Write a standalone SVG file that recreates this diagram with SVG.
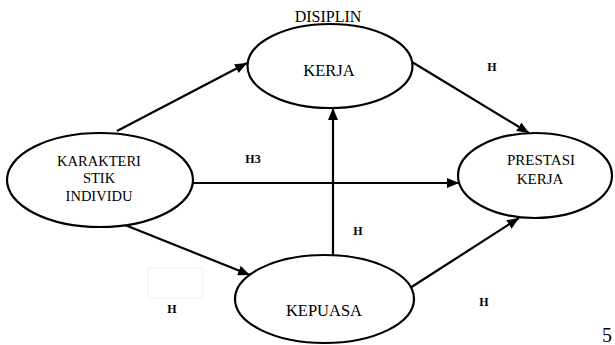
<svg xmlns="http://www.w3.org/2000/svg" width="615" height="345" viewBox="0 0 615 345">
<style>
.node ellipse{fill:#fff;stroke:#000;stroke-width:2.2}
.t{font-family:"Liberation Serif","Times New Roman",serif;fill:#000;text-anchor:middle}
.lbl{font-family:"Liberation Serif","Times New Roman",serif;font-weight:bold;font-size:12px;fill:#000;text-anchor:middle}
.c line{stroke:#000;stroke-width:2.2;marker-end:url(#ah)}
</style>
<defs>
<marker id="ah" viewBox="0 0 12 10" refX="12" refY="5" markerWidth="12" markerHeight="10" markerUnits="userSpaceOnUse" orient="auto">
<path d="M0,0 L12,5 L0,10 Z" fill="#000"/>
</marker>
</defs>
<rect x="148" y="268" width="55" height="30" fill="none" stroke="#f0f0f0" stroke-width="1"/>
<g class="c">
<line x1="117" y1="131" x2="247" y2="63"/>
<line x1="412" y1="62" x2="529" y2="133"/>
<line x1="193" y1="183" x2="459" y2="183"/>
<line x1="333" y1="255" x2="333" y2="108"/>
<line x1="125" y1="225" x2="250" y2="275"/>
<line x1="410" y1="288" x2="519" y2="218"/>
</g>
<g id="disiplin" class="node">
<ellipse cx="330" cy="66" rx="82.5" ry="42"/>
<text class="t" x="328" y="22" font-size="16">DISIPLIN</text>
<text class="t" x="329" y="76" font-size="16.5">KERJA</text>
</g>
<g id="karakteristik" class="node">
<ellipse cx="100" cy="180" rx="93" ry="47"/>
<text class="t" x="99" y="166" font-size="14.5">KARAKTERI</text>
<text class="t" x="99" y="183" font-size="14.5">STIK</text>
<text class="t" x="99" y="200.5" font-size="14.5">INDIVIDU</text>
</g>
<g id="prestasi" class="node">
<ellipse cx="535" cy="175.5" rx="77" ry="42.5"/>
<text class="t" x="541" y="165" font-size="15">PRESTASI</text>
<text class="t" x="540" y="183.5" font-size="15">KERJA</text>
</g>
<g id="kepuasa" class="node">
<ellipse cx="324.5" cy="299" rx="89.5" ry="44"/>
<text class="t" x="324" y="316" font-size="16.5">KEPUASA</text>
</g>
<g id="labels">
<text class="lbl" x="492" y="71">H</text>
<text class="lbl" x="253" y="163">H3</text>
<text class="lbl" x="358" y="235">H</text>
<text class="lbl" x="172" y="313">H</text>
<text class="lbl" x="484" y="306">H</text>
<text class="t" x="602" y="342" font-size="20" style="text-anchor:start">5</text>
</g>
</svg>
